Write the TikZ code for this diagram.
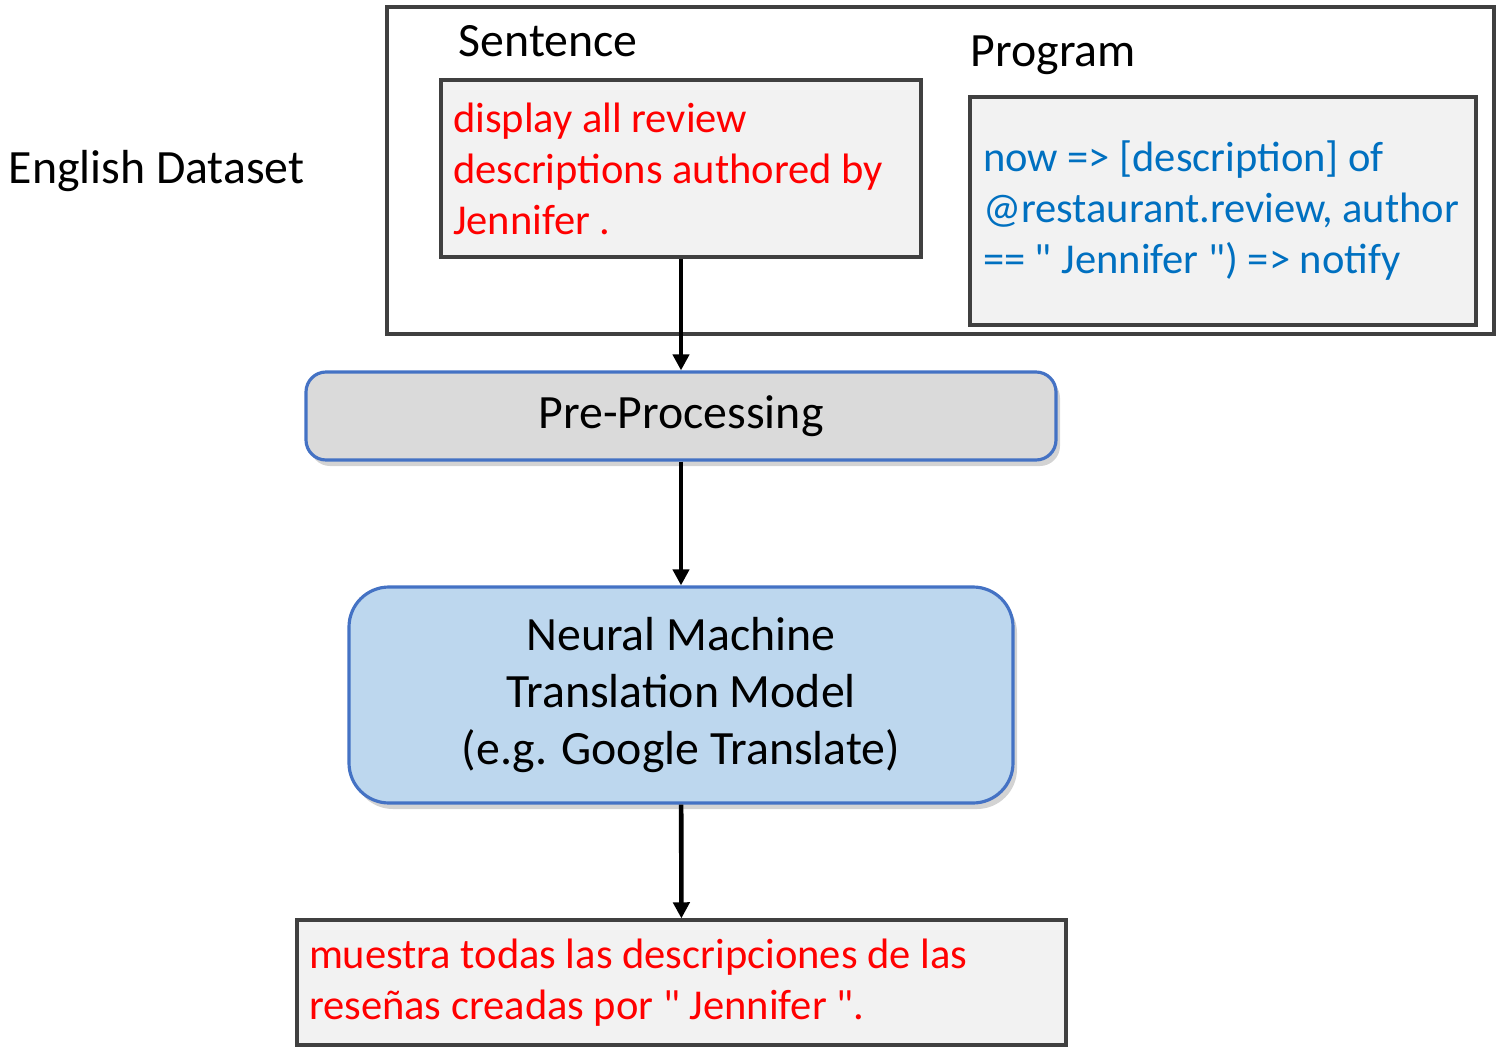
\documentclass[tikz,border=0pt]{standalone}
\usepackage{fontspec}
\setmainfont{Carlito}
\newfontfamily\calibri{Carlito}
\usetikzlibrary{shadows,arrows.meta}
\definecolor{framegray}{RGB}{64,64,64}
\definecolor{boxgray}{RGB}{242,242,242}
\definecolor{procgray}{RGB}{218,218,218}
\definecolor{nmtblue}{RGB}{189,215,238}
\definecolor{edgeblue}{RGB}{68,114,196}
\definecolor{progblue}{RGB}{0,112,192}

\begin{document}
\begin{tikzpicture}[
    textbox/.style={draw=framegray, line width=0.9pt, fill=boxgray, inner xsep=0.12cm,
        align=flush left, font=\calibri\fontsize{12.1}{14.5}\selectfont},
    stagebox/.style={draw=edgeblue, line width=0.9pt, rounded corners=0.2cm,
        drop shadow={shadow xshift=0.4mm, shadow yshift=-0.6mm, opacity=0.35},
        align=center, font=\calibri\fontsize{13.6}{16.2}\selectfont},
    flow/.style={-{Triangle[width=4.6pt,length=4.6pt]}, line width=1.3pt},
    title/.style={anchor=base west, inner sep=0pt, font=\calibri\fontsize{13.6}{16}\selectfont}
]
\useasboundingbox (0,0) rectangle (15.04,-10.48);
% dataset frame
\node[draw=framegray, line width=0.9pt, minimum width=11.07cm, minimum height=3.27cm] (data) at (9.405,-1.705) {};
\node[title] (eng) at (0.08,-1.83) {English Dataset};
\node[title] (senlab) at (4.58,-0.57) {Sentence};
\node[title] (proglab) at (9.70,-0.67) {Program};
\node[textbox, text=red, minimum width=4.80cm, minimum height=1.77cm, text width=4.56cm] (sent) at (6.81,-1.685)
    {display all review\\descriptions authored by\\Jennifer .};
\node[textbox, text=progblue, minimum width=5.06cm, minimum height=2.28cm, text width=4.80cm] (prog) at (12.23,-2.11)
    {now => [description] of\\@restaurant.review, author\\== " Jennifer ") => notify};
% pipeline
\node[stagebox, fill=procgray, minimum width=7.50cm, minimum height=0.88cm] (pre) at (6.81,-4.16) {Pre-Processing};
\node[stagebox, fill=nmtblue, rounded corners=0.4cm, minimum width=6.64cm, minimum height=2.16cm] (nmt) at (6.81,-6.95)
    {Neural Machine\\Translation Model\\(e.g. Google Translate)};
\node[textbox, text=red, minimum width=7.69cm, minimum height=1.25cm, text width=7.45cm] (out) at (6.815,-9.825)
    {muestra todas las descripciones de las\\reseñas creadas por " Jennifer ".};
\draw[flow] (sent) -- (pre);
\draw[flow] (pre) -- (nmt);
\draw[flow] (nmt) -- (out);
\end{tikzpicture}
\end{document}
